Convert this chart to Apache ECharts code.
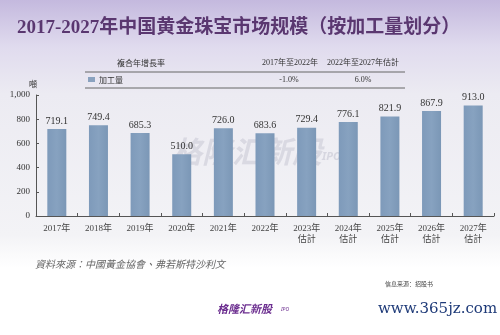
<!DOCTYPE html>
<html><head><meta charset="utf-8">
<script src="https://cdn.jsdelivr.net/npm/echarts@6/dist/echarts.min.js"></script>
<style>html,body{margin:0;padding:0;background:#fff}#c{width:500px;height:335px}</style>
</head><body><div id="c"></div>
<script>
var categories = ['2017年','2018年','2019年','2020年','2021年','2022年','2023年\n估計','2024年\n估計','2025年\n估計','2026年\n估計','2027年\n估計'];
var volume = [719.1,749.4,685.3,510.0,726.0,683.6,729.4,776.1,821.9,867.9,913.0];
var yTicks = [0,200,400,600,800,1000];
var cagrHeaders = ['2017年至2022年','2022年至2027年估計'];
var cagrValues = ['-1.0%','6.0%'];
var seriesName = '加工量';

var serif = '"Liberation Serif","DejaVu Serif","Noto Sans CJK SC",serif';
var chart = echarts.init(document.getElementById('c'), null, {renderer:'canvas'});
chart.setOption({
  animation:false,
  backgroundColor:{type:'linear',x:0,y:0,x2:0,y2:1,colorStops:[
    {offset:0,color:'#c4b9de'},{offset:0.14,color:'#e0dbee'},{offset:0.28,color:'#ecebf2'},
    {offset:0.7,color:'#f3f3f6'},{offset:0.8,color:'#ffffff'},{offset:1,color:'#ffffff'}]},
  grid:{left:36,right:6,top:95,bottom:119},
  xAxis:{type:'category',data:categories,
    axisLine:{lineStyle:{color:'#555',width:1}},
    axisTick:{show:true,inside:true,length:3,lineStyle:{color:'#555'}},
    axisLabel:{fontFamily:serif,fontSize:9,color:'#444',margin:7,lineHeight:11,interval:0}},
  yAxis:{type:'value',min:0,max:1000,interval:200,
    splitLine:{show:false},
    axisLine:{show:true,lineStyle:{color:'#555',width:1}},
    axisTick:{show:true,inside:true,length:3,lineStyle:{color:'#555'}},
    axisLabel:{fontFamily:serif,fontSize:9,color:'#333',margin:6,
      formatter:function(v){return yTicks.indexOf(v)>=0?(v>=1000?'1,000':String(v)):'';}}},
  series:[{type:'bar',name:seriesName,data:volume,barWidth:19,
    itemStyle:{color:{type:'linear',x:0,y:0,x2:1,y2:0,colorStops:[{offset:0,color:'#7e9aba'},{offset:0.5,color:'#87a2c0'},{offset:1,color:'#7b97b6'}]}},
    label:{show:true,position:'top',distance:3,fontFamily:serif,fontSize:10,color:'#333',
      formatter:function(p){return p.value.toFixed(1);}}}],
  graphic:[
    {type:'text',x:17,y:28,style:{text:'2017-2027年中国黄金珠宝市场规模（按加工量划分）',
      font:'bold 19px "Liberation Serif","Noto Sans CJK SC",serif',fill:'#5a3770',textVerticalAlign:'middle'}},
    {type:'text',x:141,y:63,style:{text:'複合年增長率',font:'8px "Noto Sans CJK SC",serif',fill:'#333',textAlign:'center',textVerticalAlign:'middle'}},
    {type:'text',x:290,y:63,style:{text:cagrHeaders[0],font:'8px '+serif,fill:'#333',textAlign:'center',textVerticalAlign:'middle'}},
    {type:'text',x:363,y:63,style:{text:cagrHeaders[1],font:'8px '+serif,fill:'#333',textAlign:'center',textVerticalAlign:'middle'}},
    {type:'line',shape:{x1:85,y1:72,x2:405,y2:72},style:{stroke:'#666',lineWidth:1}},
    {type:'rect',shape:{x:88,y:77,width:7,height:5},style:{fill:'#8aa2bf'}},
    {type:'text',x:99,y:79.5,style:{text:seriesName,font:'8px "Noto Sans CJK SC",serif',fill:'#333',textVerticalAlign:'middle'}},
    {type:'text',x:289,y:79.5,style:{text:cagrValues[0],font:'8px '+serif,fill:'#333',textAlign:'center',textVerticalAlign:'middle'}},
    {type:'text',x:363,y:79.5,style:{text:cagrValues[1],font:'8px '+serif,fill:'#333',textAlign:'center',textVerticalAlign:'middle'}},
    {type:'line',shape:{x1:85,y1:88,x2:405,y2:88},style:{stroke:'#666',lineWidth:1}},
    {type:'text',x:33,y:84,style:{text:'噸',font:'8px "Noto Sans CJK SC",serif',fill:'#333',textAlign:'center',textVerticalAlign:'middle'}},
    {type:'text',x:172,y:152,z:-1,style:{text:'格隆汇新股',font:'italic bold 30px "Noto Sans CJK SC",sans-serif',fill:'rgba(185,185,200,0.4)',textVerticalAlign:'middle'}},
    {type:'text',x:322,y:157,z:-1,style:{text:'IPO',font:'italic bold 11px "Noto Sans",sans-serif',fill:'rgba(185,185,200,0.45)',textVerticalAlign:'middle'}},
    {type:'text',x:35,y:264,style:{text:'資料來源：中國黃金協會、弗若斯特沙利文',font:'italic 10px "Noto Sans CJK TC",serif',fill:'#666',textVerticalAlign:'middle'}},
    {type:'text',x:385,y:284,style:{text:'信息来源：招股书',font:'6px "Noto Sans CJK SC",serif',fill:'#444',textVerticalAlign:'middle'}},
    {type:'text',x:217,y:309,style:{text:'格隆汇新股',font:'italic bold 11px "Noto Sans CJK SC",sans-serif',fill:'#6b2d8f',textVerticalAlign:'middle'}},
    {type:'text',x:281,y:310,style:{text:'IPO',font:'italic 5px "Noto Sans",sans-serif',fill:'#6b2d8f',textVerticalAlign:'middle'}},
    {type:'text',x:378,y:309,style:{text:'www.365jz.com',font:'15px "DejaVu Serif","Liberation Serif",serif',fill:'#1e3a78',textVerticalAlign:'middle'}}
  ]
});
</script></body></html>
